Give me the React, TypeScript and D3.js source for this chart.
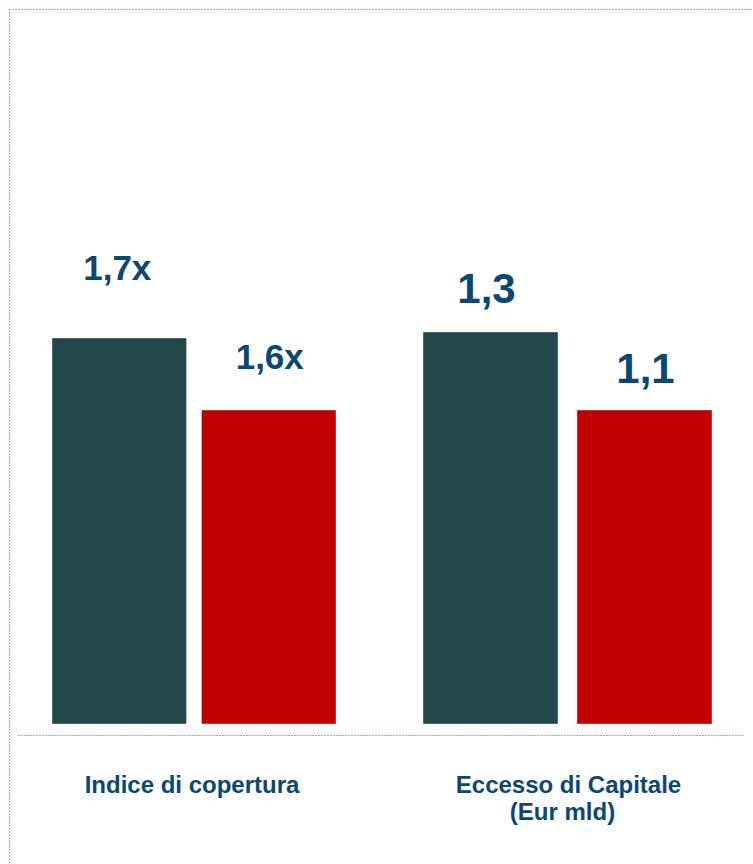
import React, { useEffect, useRef } from 'react';
import * as d3 from 'd3';

// chart data
const categories = ['Indice di copertura', 'Eccesso di Capitale\n(Eur mld)'];
const series = ['A', 'B'];
const values = [
  [1.7, 1.6],
  [1.3, 1.1],
];
const valueLabels = [
  ['1,7x', '1,6x'],
  ['1,3', '1,1'],
];
// each group has its own value axis (the original is not drawn to a common zero)
const groupDomains = [
  [1.164, 1.7],
  [0.295, 1.3],
];

const barColors = ['#214749', '#c00000'];
const textColor = '#0b4774';
const borderColor = '#a2a4d2';

const App: React.FC = () => {
  const svgRef = useRef<SVGSVGElement>(null);

  useEffect(() => {
    const W = 753;
    const H = 864;
    const base = 724;
    const svg = d3.select(svgRef.current);
    svg.selectAll('*').remove();
    svg.attr('width', W).attr('height', H);

    svg.append('rect').attr('width', W).attr('height', H).attr('fill', '#fff');

    // dashed frame (top + left)
    svg.append('line')
      .attr('x1', 9).attr('x2', W).attr('y1', 9.5).attr('y2', 9.5)
      .attr('stroke', borderColor).attr('stroke-dasharray', '2,1');
    svg.append('line')
      .attr('x1', 9.5).attr('x2', 9.5).attr('y1', 9).attr('y2', H)
      .attr('stroke', borderColor).attr('stroke-dasharray', '2,1');

    const x0 = d3.scaleBand<string>()
      .domain(categories)
      .range([52, 794])
      .paddingInner(0)
      .paddingOuter(0);

    const groupWidths = [284, 289];
    const innerPads = [0.1, 0.123];
    const labelSize = [35, 42];
    const labelGap = [[58, 41], [29, 27]];
    const labelShift = [[-2, 1], [-4, 1]];
    const barTop = [386, 392];

    categories.forEach((cat, gi) => {
      const gx = x0(cat) as number;
      const x1 = d3.scaleBand<string>()
        .domain(series)
        .range([0, groupWidths[gi]])
        .paddingInner(innerPads[gi])
        .paddingOuter(0);

      const y = d3.scaleLinear()
        .domain(groupDomains[gi])
        .range([base, base - barTop[gi]]);

      const g = svg.append('g').attr('transform', `translate(${gx},0)`);

      g.selectAll('rect.bar')
        .data(values[gi])
        .enter()
        .append('rect')
        .attr('class', 'bar')
        .attr('x', (_, i) => x1(series[i]) as number)
        .attr('y', d => y(d))
        .attr('width', x1.bandwidth())
        .attr('height', d => base - y(d))
        .attr('fill', (_, i) => barColors[i])
        .attr('stroke', '#ffffff')
        .attr('stroke-opacity', 0.4)
        .attr('stroke-width', 1);

      g.selectAll('text.val')
        .data(values[gi])
        .enter()
        .append('text')
        .attr('class', 'val')
        .attr('x', (_, i) => (x1(series[i]) as number) + x1.bandwidth() / 2 + labelShift[gi][i])
        .attr('y', (d, i) => y(d) - labelGap[gi][i])
        .attr('text-anchor', 'middle')
        .style('font-family', '"Liberation Sans", Arial, sans-serif')
        .style('font-weight', 'bold')
        .style('font-size', `${labelSize[gi]}px`)
        .style('fill', textColor)
        .text((_, i) => valueLabels[gi][i]);

      // category label
      const cx = gx + groupWidths[gi] / 2 - (gi === 0 ? 2 : -1);
      const lines = cat.split('\n');
      const t = svg.append('text')
        .attr('y', 793)
        .attr('text-anchor', 'middle')
        .style('font-family', '"Liberation Sans", Arial, sans-serif')
        .style('font-weight', 'bold')
        .style('font-size', '24px')
        .style('fill', textColor);
      lines.forEach((ln, li) => {
        t.append('tspan')
          .attr('x', cx - (li === 1 ? 6 : 0))
          .attr('dy', li === 0 ? 0 : 27)
          .text(ln);
      });
    });

    // dashed baseline below bars
    svg.append('line')
      .attr('x1', 18).attr('x2', 744).attr('y1', 735.5).attr('y2', 735.5)
      .attr('stroke', borderColor).attr('stroke-dasharray', '2,1');
  }, []);

  return (
    <svg
      ref={svgRef}
      style={{ position: 'absolute', left: 0, top: 0, display: 'block' }}
    />
  );
};

export default App;
